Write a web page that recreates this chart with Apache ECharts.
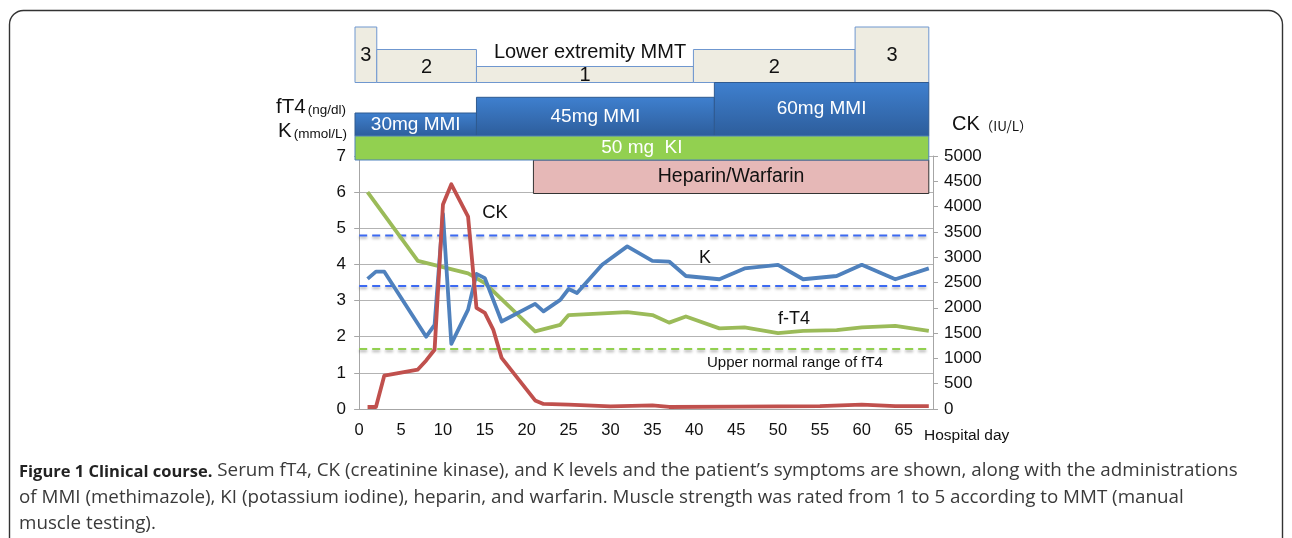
<!DOCTYPE html>
<html>
<head>
<meta charset="utf-8">
<script src="https://cdn.jsdelivr.net/npm/echarts@6.0.0/dist/echarts.min.js"></script>
<style>
  html, body { margin: 0; padding: 0; background: #fff; }
  #chart { width: 1292px; height: 538px; }
</style>
</head>
<body>
<div id="chart"></div>
<script>
// hospital days on the category axis
const days = [];
for (let d = 0; d <= 68; d++) days.push(String(d));

// serum fT4 (ng/dl)
const ft4Days = [1, 7, 13, 15, 21, 24, 25, 32, 35, 37, 39, 43, 46, 50, 53, 57, 60, 64, 68];
const ft4Values = [6.0, 4.1, 3.75, 3.48, 2.15, 2.33, 2.6, 2.68, 2.6, 2.39, 2.56, 2.23, 2.26, 2.1, 2.16, 2.18, 2.26, 2.3, 2.16];

// serum K (mmol/L)
const kDays = [1, 2, 3, 8, 9, 10, 11, 13, 14, 15, 17, 21, 22, 24, 25, 26, 29, 32, 35, 37, 39, 43, 46, 50, 53, 57, 60, 64, 68];
const kValues = [3.6, 3.8, 3.8, 2.0, 2.33, 5.4, 1.8, 2.75, 3.74, 3.62, 2.42, 2.91, 2.7, 3.02, 3.32, 3.21, 3.99, 4.5, 4.1, 4.08, 3.68, 3.59, 3.89, 3.99, 3.59, 3.68, 3.99, 3.59, 3.89];

// CK (IU/L)
const ckDays = [1, 2, 3, 7, 8, 9, 10, 11, 13, 14, 15, 16, 17, 21, 22, 25, 30, 35, 37, 45, 50, 55, 60, 64, 68];
const ckValues = [40, 40, 660, 780, 960, 1170, 4040, 4440, 3800, 2000, 1900, 1570, 1010, 170, 100, 85, 50, 70, 40, 45, 50, 55, 85, 55, 55];

// reference ranges
const kNormalRange = [3.4, 4.8];
const ft4UpperNormal = 1.66;

// treatment / symptom periods: [start day, end day, value]
const mmtPeriods = [[-0.5, 2.1, 3], [2.1, 14, 2], [14, 39.9, 1], [39.9, 59.2, 2], [59.2, 68, 3]];
const mmiPeriods = [[-0.5, 14, 30], [14, 42.4, 45], [42.4, 68, 60]];
const kiPeriods = [[-0.5, 68]];
const heparinPeriods = [[20.8, 68]];

const FONT = '"Liberation Sans", Arial, sans-serif';
const CAPTION_FONT = '"Open Sans", sans-serif';
const MMT_HEIGHT = { 1: 16, 2: 33, 3: 55.5 };
const MMI_HEIGHT = { 30: 23, 45: 38.7, 60: 53.5 };

const chart = echarts.init(document.getElementById('chart'));

function boxText(text, x, y, size, color) {
  return {
    type: 'text',
    style: { text: text, x: x, y: y, align: 'center', verticalAlign: 'middle', fontSize: size, fontFamily: FONT, fill: color }
  };
}

function renderMmt(params, api) {
  const a = api.coord([api.value(0), 7]);
  const b = api.coord([api.value(1), 7]);
  const base = a[1] - 73.5;
  const h = MMT_HEIGHT[api.value(2)];
  return {
    type: 'group',
    children: [
      { type: 'rect', shape: { x: a[0], y: base - h, width: b[0] - a[0], height: h },
        style: { fill: '#eeece1', stroke: '#6f97cf', lineWidth: 1 } },
      boxText(String(api.value(2)), (a[0] + b[0]) / 2, base - h / 2 + 1, 20, '#111')
    ]
  };
}

function renderMmi(params, api) {
  const a = api.coord([api.value(0), 7]);
  const b = api.coord([api.value(1), 7]);
  const base = a[1] - 20;
  const h = MMI_HEIGHT[api.value(2)];
  return {
    type: 'group',
    children: [
      { type: 'rect', shape: { x: a[0], y: base - h, width: b[0] - a[0], height: h },
        style: {
          fill: new echarts.graphic.LinearGradient(0, 0, 0, 1, [
            { offset: 0, color: '#3f80cf' }, { offset: 1, color: '#2d5d9b' }
          ]),
          stroke: '#2f5a90', lineWidth: 1
        } },
      boxText(api.value(2) + 'mg MMI', (a[0] + b[0]) / 2, base - h / 2, 19, '#fff')
    ]
  };
}

function renderKi(params, api) {
  const a = api.coord([api.value(0), 7]);
  const b = api.coord([api.value(1), 7]);
  return {
    type: 'group',
    children: [
      { type: 'rect', shape: { x: a[0], y: a[1] - 20, width: b[0] - a[0], height: 24 },
        style: { fill: '#92d050', stroke: '#4f81bd', lineWidth: 1 } },
      boxText('50 mg  KI', (a[0] + b[0]) / 2, a[1] - 8, 19, '#fff')
    ]
  };
}

function renderHeparin(params, api) {
  const a = api.coord([api.value(0), 7]);
  const b = api.coord([api.value(1), 7]);
  return {
    type: 'group',
    children: [
      { type: 'rect', shape: { x: a[0], y: a[1] + 4, width: b[0] - a[0], height: 33.5 },
        style: { fill: '#e6b8b7', stroke: '#333', lineWidth: 1 } },
      boxText('Heparin/Warfarin', (a[0] + b[0]) / 2, a[1] + 21, 19.5, '#111')
    ]
  };
}

function pairs(xs, ys) {
  return xs.map((x, i) => [x, ys[i]]);
}

function refLine(value, color) {
  return {
    type: 'line', xAxisIndex: 0, yAxisIndex: 0, z: 1, silent: true,
    symbol: 'none', data: [[0, value], [68, value]],
    lineStyle: { color: color, width: 2, type: [8, 5],
      shadowColor: 'rgba(0,0,0,0.35)', shadowBlur: 3, shadowOffsetY: 2 }
  };
}

function dataLine(name, xs, ys, color, yIndex) {
  return {
    name: name, type: 'line', xAxisIndex: 0, yAxisIndex: yIndex, z: 3,
    symbol: 'none', data: pairs(xs, ys),
    lineStyle: { color: color, width: 3.8, join: 'round' }
  };
}

function unitLabel(size, family) {
  return { fontSize: size, fontFamily: family || FONT, fill: '#111', verticalAlign: 'bottom', lineHeight: 24 };
}

const axisGray = '#a6a6a6';

const option = {
  animation: false,
  backgroundColor: '#fff',
  grid: { left: 355, right: 359, top: 156, bottom: 129 },
  xAxis: [{
    type: 'category',
    data: days,
    boundaryGap: true,
    axisLine: { lineStyle: { color: axisGray, width: 1 } },
    axisTick: { interval: 0, length: 5, lineStyle: { color: axisGray } },
    axisLabel: { interval: 4, fontSize: 16.5, fontFamily: FONT, color: '#111', margin: 13 }
  }, {
    type: 'value', min: -0.5, max: 68.5, show: false
  }],
  yAxis: [{
    type: 'value', min: 0, max: 7, interval: 1,
    axisLine: { show: true, lineStyle: { color: axisGray } },
    axisTick: { show: true, length: 5, lineStyle: { color: axisGray } },
    axisLabel: { fontSize: 17, fontFamily: FONT, color: '#111', margin: 9 },
    splitLine: { lineStyle: { color: '#b3b3b3', width: 1.2 } }
  }, {
    type: 'value', min: 0, max: 5000, interval: 500, position: 'right',
    axisLine: { show: true, lineStyle: { color: axisGray } },
    axisTick: { show: true, length: 5, lineStyle: { color: axisGray } },
    axisLabel: { fontSize: 17, fontFamily: FONT, color: '#111', margin: 11, formatter: v => String(v) },
    splitLine: { show: false }
  }],
  series: [
    refLine(kNormalRange[1], '#3d6af2'),
    refLine(kNormalRange[0], '#3d6af2'),
    refLine(ft4UpperNormal, '#92d050'),
    dataLine('fT4', ft4Days, ft4Values, '#9bbb59', 0),
    dataLine('K', kDays, kValues, '#4f81bd', 0),
    dataLine('CK', ckDays, ckValues, '#c0504d', 1),
    { type: 'custom', xAxisIndex: 1, yAxisIndex: 0, z: 4, renderItem: renderMmt, data: mmtPeriods, encode: { x: [0, 1] } },
    { type: 'custom', xAxisIndex: 1, yAxisIndex: 0, z: 4, renderItem: renderHeparin, data: heparinPeriods, encode: { x: [0, 1] } },
    { type: 'custom', xAxisIndex: 1, yAxisIndex: 0, z: 4, renderItem: renderMmi, data: mmiPeriods, encode: { x: [0, 1] } },
    { type: 'custom', xAxisIndex: 1, yAxisIndex: 0, z: 4, renderItem: renderKi, data: kiPeriods, encode: { x: [0, 1] } }
  ],
  graphic: [
    { type: 'rect', z: 0, shape: { x: 9.5, y: 10.5, width: 1273, height: 640, r: 14 },
      style: { fill: 'none', stroke: '#333', lineWidth: 1.4 } },
    { type: 'text', x: 590, y: 52, style: { text: 'Lower extremity MMT', fontSize: 20, fontFamily: FONT, fill: '#111', align: 'center', verticalAlign: 'middle' } },
    { type: 'text', x: 346, y: 106, style: {
      text: '{a|fT4}{b|(ng/dl)}', align: 'right', verticalAlign: 'middle',
      rich: { a: unitLabel(20.5), b: Object.assign(unitLabel(13.5), { padding: [0, 0, 1, 2] }) } } },
    { type: 'text', x: 347, y: 130, style: {
      text: '{a|K}{b|(mmol/L)}', align: 'right', verticalAlign: 'middle',
      rich: { a: unitLabel(20.5), b: Object.assign(unitLabel(13.5), { padding: [0, 0, 1, 2] }) } } },
    { type: 'text', x: 952, y: 122, style: {
      text: '{a|CK}{b|（IU/L）}', align: 'left', verticalAlign: 'middle',
      rich: { a: unitLabel(20), b: Object.assign(unitLabel(13.5, '"Noto Sans CJK JP", ' + FONT), { padding: [0, 0, 1, 0] }) } } },
    { type: 'text', x: 495, y: 213, style: { text: 'CK', fontSize: 18.5, fontFamily: FONT, fill: '#111', align: 'center', verticalAlign: 'middle' } },
    { type: 'text', x: 705, y: 258, style: { text: 'K', fontSize: 18, fontFamily: FONT, fill: '#111', align: 'center', verticalAlign: 'middle' } },
    { type: 'text', x: 794, y: 319, style: { text: 'f-T4', fontSize: 18, fontFamily: FONT, fill: '#111', align: 'center', verticalAlign: 'middle' } },
    { type: 'text', x: 795, y: 363, style: { text: 'Upper normal range of fT4', fontSize: 15, fontFamily: FONT, fill: '#111', align: 'center', verticalAlign: 'middle' } },
    { type: 'text', x: 924, y: 436, style: { text: 'Hospital day', fontSize: 15.5, fontFamily: FONT, fill: '#111', align: 'left', verticalAlign: 'middle' } },
    { type: 'text', x: 19, y: 454, style: {
      text: '{b|Figure 1 Clinical course.}{n| Serum fT4, CK (creatinine kinase), and K levels and the patient\u2019s symptoms are shown, along with the administrations}\n' +
            '{n|of MMI (methimazole), KI (potassium iodine), heparin, and warfarin. Muscle strength was rated from 1 to 5 according to MMT (manual}\n' +
            '{n|muscle testing).}',
      align: 'left', verticalAlign: 'top',
      rich: {
        b: { fontSize: 16.5, fontFamily: CAPTION_FONT, fontWeight: 'bold', fill: '#222', lineHeight: 26.5, verticalAlign: 'bottom' },
        n: { fontSize: 18.8, fontFamily: CAPTION_FONT, fill: '#3a3a3a', lineHeight: 26.5, verticalAlign: 'bottom' }
      } } }
  ]
};

chart.setOption(option);
</script>
</body>
</html>
